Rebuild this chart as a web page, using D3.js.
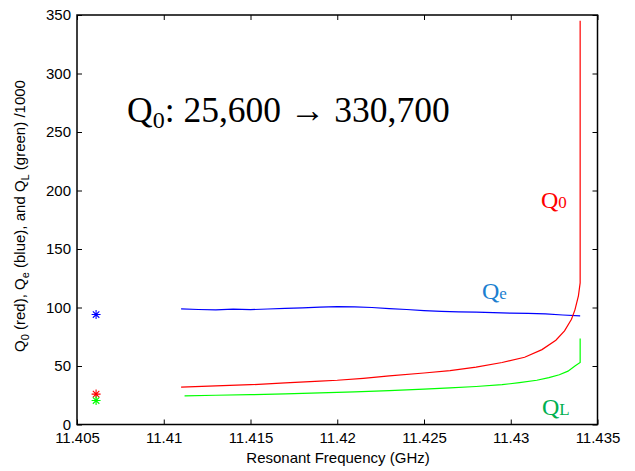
<!DOCTYPE html>
<html>
<head>
<meta charset="utf-8">
<script src="https://cdn.jsdelivr.net/npm/d3@7"></script>
<style>
  body { margin: 0; background: #fff; }
  text { font-family: Arial, "Liberation Sans", sans-serif; }
  .serif { font-family: "Times New Roman", "Liberation Serif", serif; }
</style>
</head>
<body>
<svg id="chart" width="635" height="471"></svg>
<script>
// Q values in thousands
var freqQ0 = [11.4110, 11.4130, 11.4150, 11.4170, 11.4190, 11.4200, 11.4215, 11.4230, 11.4250, 11.4265,
              11.4280, 11.4295, 11.4308, 11.4318, 11.4326, 11.4331, 11.4335, 11.4337, 11.4339, 11.4340, 11.4340];
var q0 = [32, 33, 34, 35.5, 37, 37.8, 39.5, 41.5, 44, 46, 49, 53, 57.5, 64, 72, 80, 90, 98, 110, 121, 345];

var freqQe = [11.4110, 11.4120, 11.4130, 11.4140, 11.4150, 11.4160, 11.4170, 11.4180, 11.4190, 11.4200,
              11.4210, 11.4220, 11.4230, 11.4240, 11.4250, 11.4260, 11.4270, 11.4280, 11.4290, 11.4300,
              11.4310, 11.4320, 11.4330, 11.4340];
var qe = [98.8, 98.3, 98.0, 98.6, 98.2, 98.7, 99.2, 99.6, 100.3, 100.8, 100.6, 100.0, 99.0, 98.3, 97.4, 96.7,
          96.3, 96.0, 95.6, 95.2, 94.9, 94.5, 93.6, 92.8];

var freqQL = [11.4112, 11.4130, 11.4150, 11.4170, 11.4190, 11.4210, 11.4230, 11.4250, 11.4265, 11.4280,
              11.4295, 11.4305, 11.4315, 11.4322, 11.4328, 11.4333, 11.4337, 11.4340, 11.4340];
var qL = [24.5, 25, 25.5, 26.2, 27, 27.8, 29, 30.3, 31.3, 32.5, 34, 35.8, 37.8, 40, 42.5, 45.6, 50, 53, 73.5];

// single starting measurement (asterisks)
var startFreq = 11.4061;
var startPoints = [
  { q: 94, color: "#0000ff" },
  { q: 26, color: "#ff0000" },
  { q: 20.5, color: "#00ff00" }
];

var xTicks = [11.405, 11.41, 11.415, 11.42, 11.425, 11.43, 11.435];
var xTickLabels = ["11.405", "11.41", "11.415", "11.42", "11.425", "11.43", "11.435"];
var yTicks = [0, 50, 100, 150, 200, 250, 300, 350];

var svg = d3.select("#chart");
var plotL = 77, plotR = 597.5, plotT = 15, plotB = 424.5;

var x = d3.scaleLinear().domain([11.405, 11.435]).range([plotL, plotR]);
var y = d3.scaleLinear().domain([0, 350]).range([plotB, plotT]);

// axes, MATLAB style: ticks inward on all four sides
var xAxis = d3.axisBottom(x).tickValues(xTicks).tickSizeInner(-5).tickSizeOuter(0)
  .tickFormat(function(d, i) { return xTickLabels[i]; });
var gx = svg.append("g").attr("transform", "translate(0," + plotB + ")").call(xAxis);
gx.selectAll("text").attr("dy", "0").attr("y", 18.5).style("font-size", "15px").attr("fill", "#000");

svg.append("g").attr("transform", "translate(0," + plotT + ")")
  .call(d3.axisTop(x).tickValues(xTicks).tickSizeInner(-5).tickSizeOuter(0).tickFormat(""));

var gy = svg.append("g").attr("transform", "translate(" + plotL + ",0)")
  .call(d3.axisLeft(y).tickValues(yTicks).tickSizeInner(-5).tickSizeOuter(0));
gy.selectAll("text").attr("x", -6).style("font-size", "15px").attr("fill", "#000");

svg.append("g").attr("transform", "translate(" + plotR + ",0)")
  .call(d3.axisRight(y).tickValues(yTicks).tickSizeInner(-5).tickSizeOuter(0).tickFormat(""));

svg.selectAll(".domain").remove();
svg.selectAll(".tick line").attr("stroke", "#000");

svg.append("rect")
  .attr("x", plotL).attr("y", plotT)
  .attr("width", plotR - plotL).attr("height", plotB - plotT)
  .attr("fill", "none").attr("stroke", "#000").attr("stroke-width", 1.5);

// series lines
function drawSeries(xs, ys, color) {
  var pts = xs.map(function(f, i) { return [f, ys[i]]; });
  var line = d3.line().x(function(d) { return x(d[0]); }).y(function(d) { return y(d[1]); });
  svg.append("path").datum(pts)
    .attr("d", line)
    .attr("fill", "none")
    .attr("stroke", color)
    .attr("stroke-width", 1.2);
}
drawSeries(freqQe, qe, "#0000ff");
drawSeries(freqQL, qL, "#00ff00");
drawSeries(freqQ0, q0, "#ff0000");

// asterisk markers
var r = 4.5;
startPoints.forEach(function(p) {
  var cx = x(startFreq), cy = y(p.q);
  var d = "M" + (cx - r) + "," + cy + "H" + (cx + r) +
          "M" + cx + "," + (cy - r) + "V" + (cy + r) +
          "M" + (cx - r * 0.72) + "," + (cy - r * 0.72) + "L" + (cx + r * 0.72) + "," + (cy + r * 0.72) +
          "M" + (cx - r * 0.72) + "," + (cy + r * 0.72) + "L" + (cx + r * 0.72) + "," + (cy - r * 0.72);
  svg.append("path").attr("d", d).attr("stroke", p.color).attr("stroke-width", 1.1).attr("fill", "none");
});

// axis titles
svg.append("text")
  .attr("x", 338).attr("y", 463)
  .attr("text-anchor", "middle")
  .style("font-size", "15px")
  .text("Resonant Frequency (GHz)");

var yl = svg.append("text")
  .attr("transform", "translate(25,216) rotate(-90)")
  .attr("text-anchor", "middle")
  .style("font-size", "15px");
yl.append("tspan").text("Q");
yl.append("tspan").attr("dy", 4).style("font-size", "11px").text("0");
yl.append("tspan").attr("dy", -4).text(" (red), Q");
yl.append("tspan").attr("dy", 4).style("font-size", "11px").text("e");
yl.append("tspan").attr("dy", -4).text(" (blue), and Q");
yl.append("tspan").attr("dy", 4).style("font-size", "11px").text("L");
yl.append("tspan").attr("dy", -4).text(" (green) /1000");

// big annotation
var ann = svg.append("text").attr("class", "serif")
  .attr("x", 127).attr("y", 122)
  .style("font-size", "35.5px");
ann.append("tspan").text("Q");
ann.append("tspan").attr("dy", 6).style("font-size", "24px").text("0");
ann.append("tspan").attr("dy", -6).text(": 25,600 \u2192 330,700");

// series labels
function seriesLabel(px, py, sub, color) {
  var t = svg.append("text").attr("class", "serif")
    .attr("x", px).attr("y", py)
    .attr("fill", color)
    .style("font-size", "24px");
  t.append("tspan").text("Q");
  t.append("tspan").style("font-size", "17px").text(sub);
}
seriesLabel(541, 208, "0", "#ff0000");
seriesLabel(482, 299, "e", "#1c7fd0");
seriesLabel(542, 415, "L", "#00b050");
</script>
</body>
</html>
